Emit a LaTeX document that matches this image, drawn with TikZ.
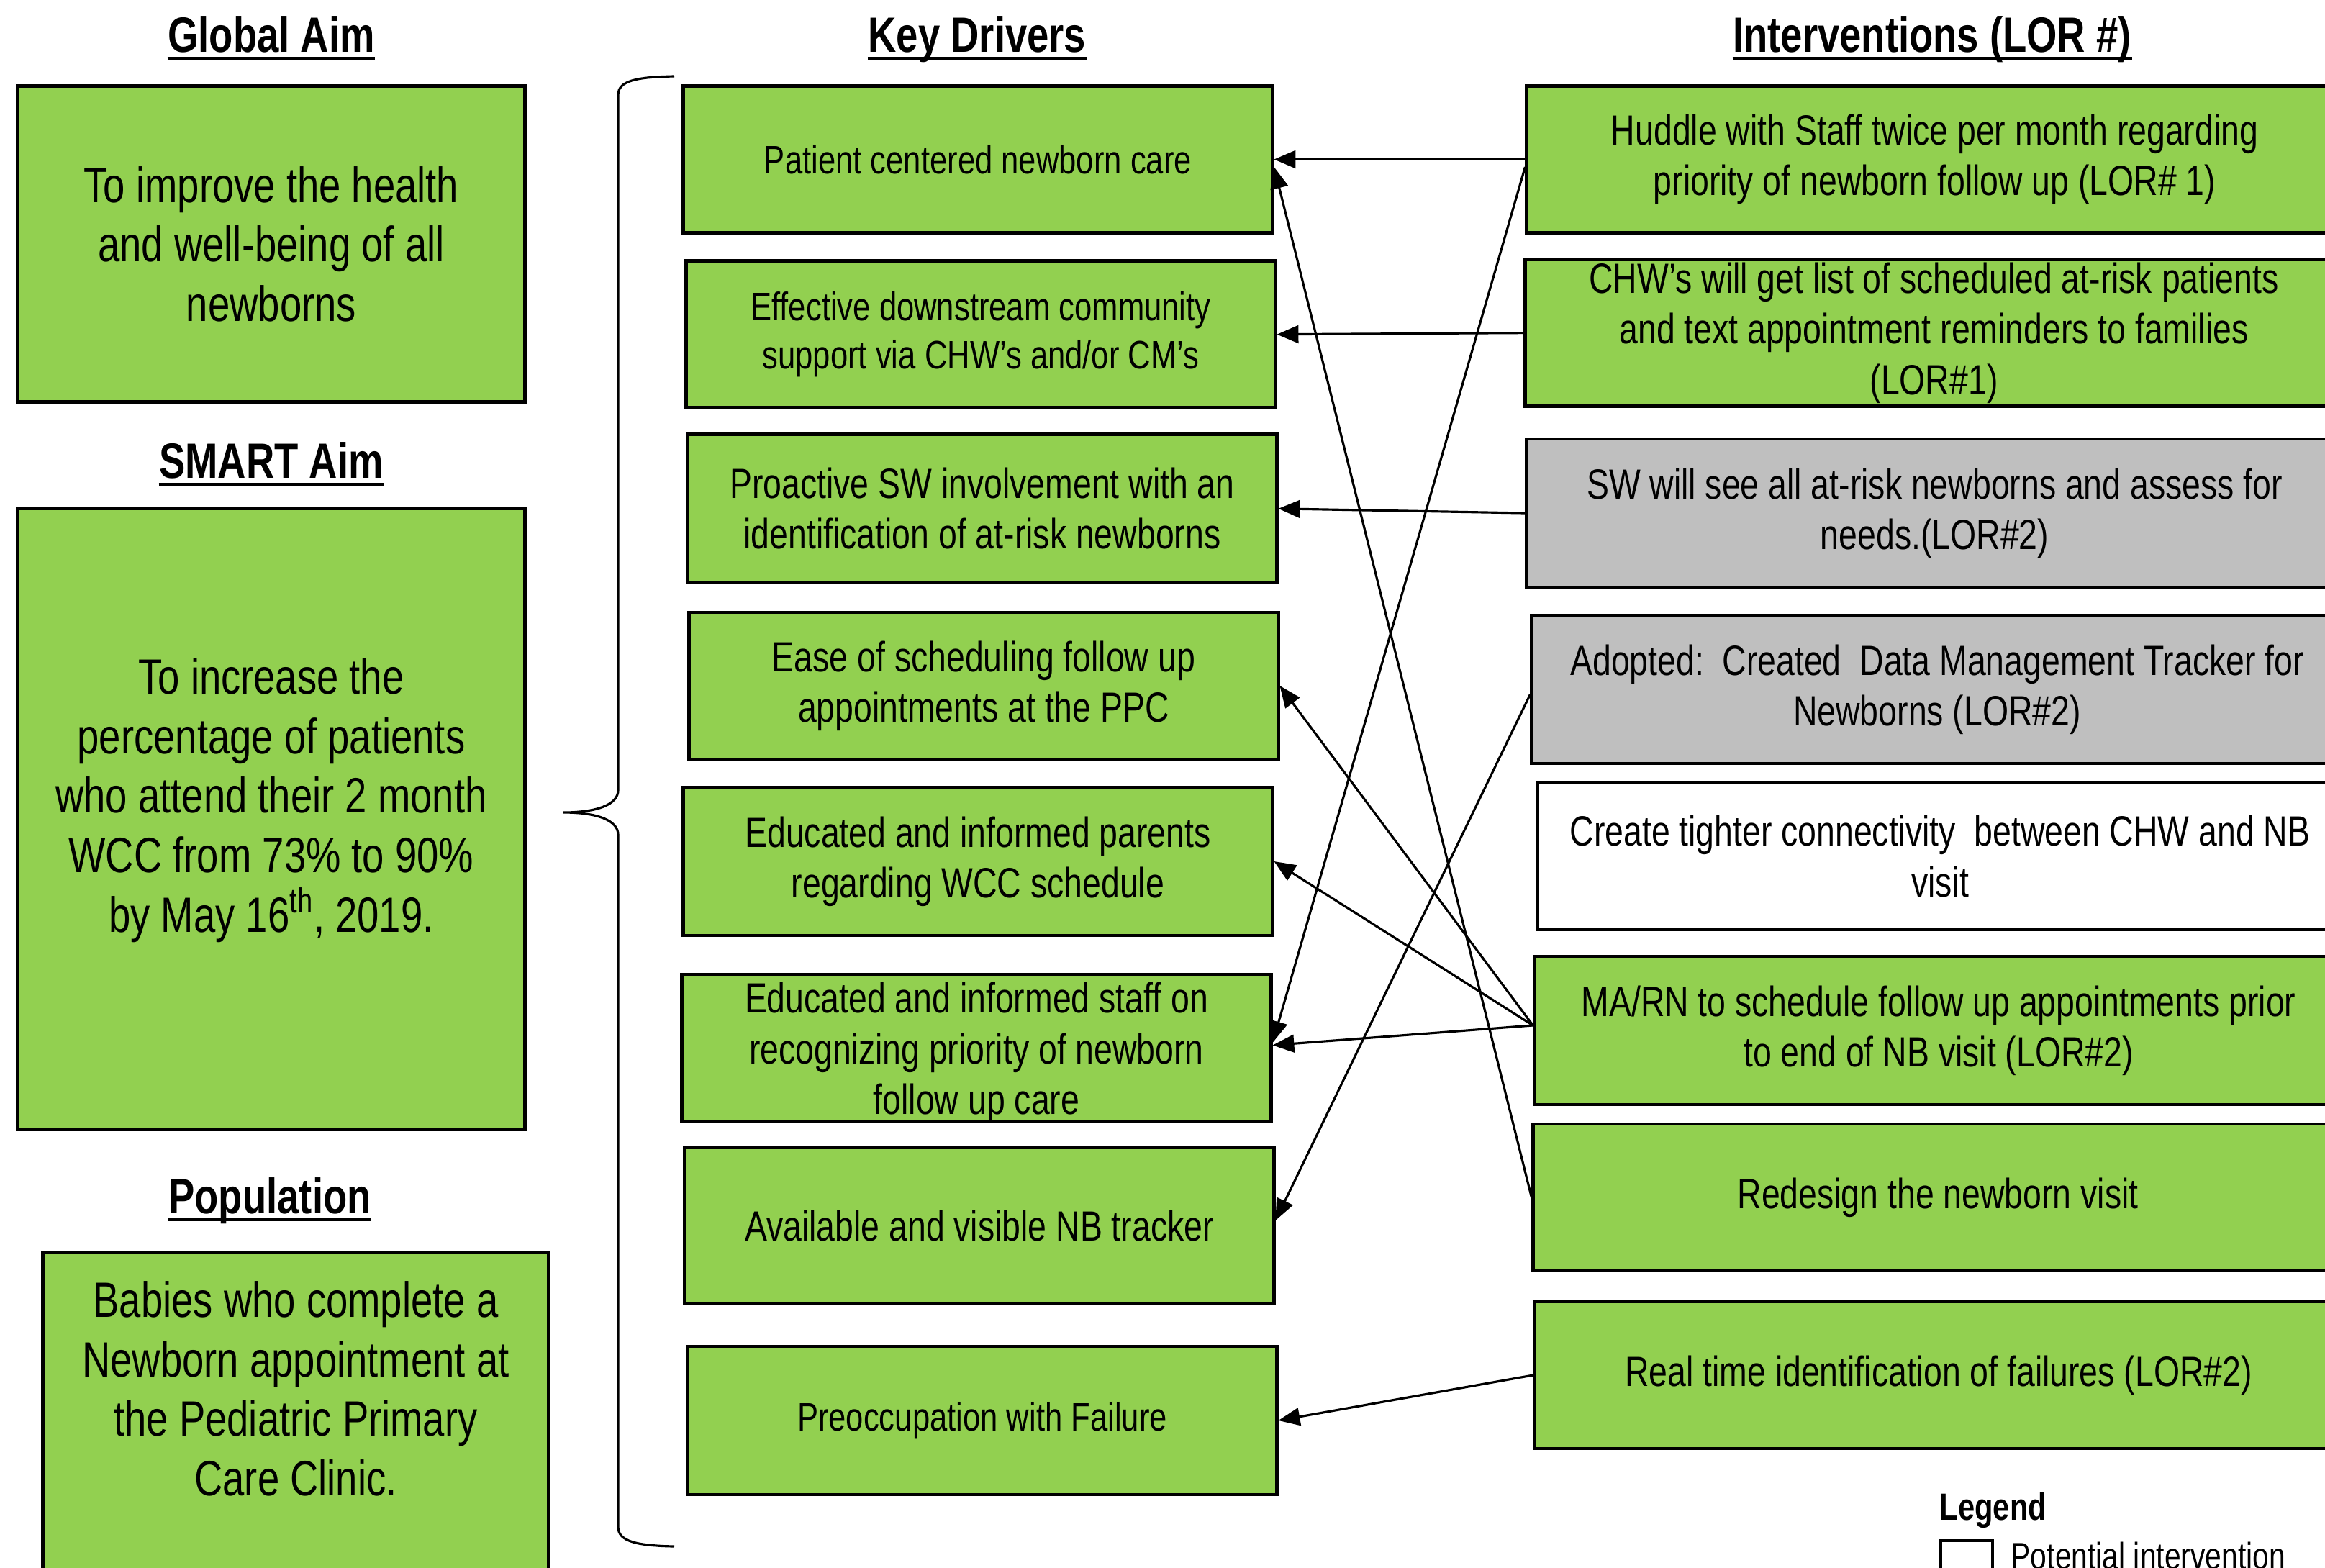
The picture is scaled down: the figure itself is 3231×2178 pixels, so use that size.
\documentclass[tikz,border=0pt]{standalone}
\usepackage{fontspec}
\setmainfont{Liberation Sans}[FakeStretch=0.79]
\usetikzlibrary{arrows.meta}
\definecolor{boxgreen}{HTML}{92D050}
\definecolor{boxgray}{HTML}{BFBFBF}
\begin{document}
\begin{tikzpicture}[x=0.01cm,y=-0.01cm,
  box/.style={draw=black, line width=1.3pt, inner sep=2pt, align=center},
  gbox/.style={box, fill=boxgreen},
  greybox/.style={box, fill=boxgray},
  wbox/.style={box, fill=white},
  big/.style={font=\fontsize{19.6}{23.5}\selectfont},
  mid/.style={font=\fontsize{16.7}{20}\selectfont},
  small/.style={font=\fontsize{15.7}{18.8}\selectfont},
  ttl/.style={font=\fontsize{19.6}{23.5}\selectfont\bfseries, inner sep=0pt, anchor=base},
  uline/.style={line width=1.1pt},
  link/.style={line width=0.9pt, -{Triangle[length=8.5pt,width=7pt]}},
  brace/.style={line width=0.9pt},
]
\useasboundingbox (0,0) rectangle (3231,2178);
\clip (0,0) rectangle (3231,2178);

% titles
\node[ttl] (tG) at (377,72) {Global Aim};
\node[ttl] (tK) at (1358,72) {Key Drivers};
\node[ttl] (tI) at (2685,72) {Interventions (LOR \#)};
\node[ttl] (tS) at (377,664) {SMART Aim};
\node[ttl] (tP) at (375,1686) {Population};
\foreach \t in {tG,tK,tI,tS,tP}{
  \draw[uline] ([yshift=-2.5pt]\t.base west) -- ([yshift=-2.5pt]\t.base east);
}

% left column
\node[gbox, big, minimum width=7.05cm, minimum height=4.39cm] (G) at (377,339)
  {To improve the health\\and well-being of all\\newborns};
\node[gbox, minimum width=7.05cm, minimum height=8.63cm] (S) at (377,1138) {};
\node[big, align=center, inner sep=0pt] (Stext) at (377,1112)
  {To increase the\\percentage of patients\\who attend their 2 month\\WCC from 73\% to 90\%\\by May 16\textsuperscript{th}, 2019.};
\node[gbox, minimum width=7.03cm, minimum height=4.44cm] (P) at (411,1963) {};
\node[big, align=center, inner sep=0pt] (Ptext) at (411,1930)
  {Babies who complete a\\Newborn appointment at\\the Pediatric Primary\\Care Clinic.};

% brace
\draw[brace] (937,106) .. controls (885,107) and (859,112) .. (859,132)
  -- (859,1098) .. controls (859,1118) and (830,1129) .. (783,1129)
  .. controls (830,1129) and (859,1140) .. (859,1160)
  -- (859,2122) .. controls (859,2142) and (885,2148) .. (937,2149);

% key drivers
\node[gbox, small, minimum width=8.18cm, minimum height=2.04cm] (D1) at (1359,221.5)
  {Patient centered newborn care};
\node[gbox, small, minimum width=8.18cm, minimum height=2.04cm] (D2) at (1363,464.7)
  {Effective downstream community\\support via CHW’s and/or CM’s};
\node[gbox, mid, minimum width=8.18cm, minimum height=2.06cm] (D3) at (1365,706.8)
  {Proactive SW involvement with an\\identification of at-risk newborns};
\node[gbox, mid, minimum width=8.18cm, minimum height=2.04cm] (D4) at (1367,953)
  {Ease of scheduling follow up\\appointments at the PPC};
\node[gbox, mid, minimum width=8.18cm, minimum height=2.06cm] (D5) at (1359,1197)
  {Educated and informed parents\\regarding WCC schedule};
\node[gbox, minimum width=8.18cm, minimum height=2.04cm] (D6) at (1357,1456) {};
\node[mid, align=center, inner sep=0pt] (D6text) at (1357,1463)
  {Educated and informed staff on\\recognizing priority of newborn\\follow up care};
\node[gbox, mid, minimum width=8.18cm, minimum height=2.16cm] (D7) at (1361,1703)
  {Available and visible NB tracker};
\node[gbox, small, minimum width=8.18cm, minimum height=2.06cm] (D8) at (1365,1974)
  {Preoccupation with Failure};

% interventions
\node[gbox, mid, minimum width=11.33cm, minimum height=2.04cm] (I1) at (2688.5,221.5)
  {Huddle with Staff twice per month regarding\\priority of newborn follow up (LOR\# 1)};
\node[gbox, mid, minimum width=11.35cm, minimum height=2.04cm, inner sep=0pt] (I2) at (2687.5,462.6)
  {CHW’s will get list of scheduled at-risk patients\\and text appointment reminders to families\\(LOR\#1)};
\node[greybox, mid, minimum width=11.33cm, minimum height=2.06cm] (I3) at (2688.5,713)
  {SW will see all at-risk newborns and assess for\\needs.(LOR\#2)};
\node[greybox, mid, minimum width=11.26cm, minimum height=2.06cm] (I4) at (2692,958)
  {Adopted:\ \ Created\ \ Data Management Tracker for\\Newborns (LOR\#2)};
\node[wbox, mid, minimum width=11.18cm, minimum height=2.04cm] (I5) at (2696,1190)
  {Create tighter connectivity\ \ between CHW and NB\\visit};
\node[gbox, mid, minimum width=11.22cm, minimum height=2.06cm] (I6) at (2694,1432)
  {MA/RN to schedule follow up appointments prior\\to end of NB visit (LOR\#2)};
\node[gbox, mid, minimum width=11.24cm, minimum height=2.04cm] (I7) at (2693,1664)
  {Redesign the newborn visit};
\node[gbox, mid, minimum width=11.22cm, minimum height=2.04cm] (I8) at (2694,1911)
  {Real time identification of failures (LOR\#2)};

% connectors
\draw[link] (I1.west) -- (D1.east);
\draw[link] ([yshift=-3pt]I1.west) -- ([yshift=2pt]D6.east);
\draw[link] (I2.west) -- (D2.east);
\draw[link] (I3.west) -- (D3.east);
\draw[link] ([yshift=-2pt]I4.west) -- ([yshift=2pt]D7.east);
\draw[link] ([yshift=2pt]I6.west) -- (D4.east);
\draw[link] ([yshift=2pt]I6.west) -- (D5.east);
\draw[link] ([yshift=2pt]I6.west) -- ([yshift=1pt]D6.east);
\draw[link] (I7.west) -- ([yshift=-3pt]D1.east);
\draw[link] (I8.west) -- (D8.east);

% legend
\node[font=\fontsize{15}{18}\selectfont\bfseries, anchor=base west, inner sep=0pt] (lg) at (2695,2112) {Legend};
\node[draw=black, line width=1.1pt, minimum width=0.72cm, minimum height=0.7cm, inner sep=0pt, anchor=north west] (lbox) at (2695,2139) {};
\node[font=\fontsize{14.7}{17.6}\selectfont, anchor=base west, inner sep=0pt] (ltxt) at (2794,2180) {Potential intervention};
\end{tikzpicture}
\end{document}
